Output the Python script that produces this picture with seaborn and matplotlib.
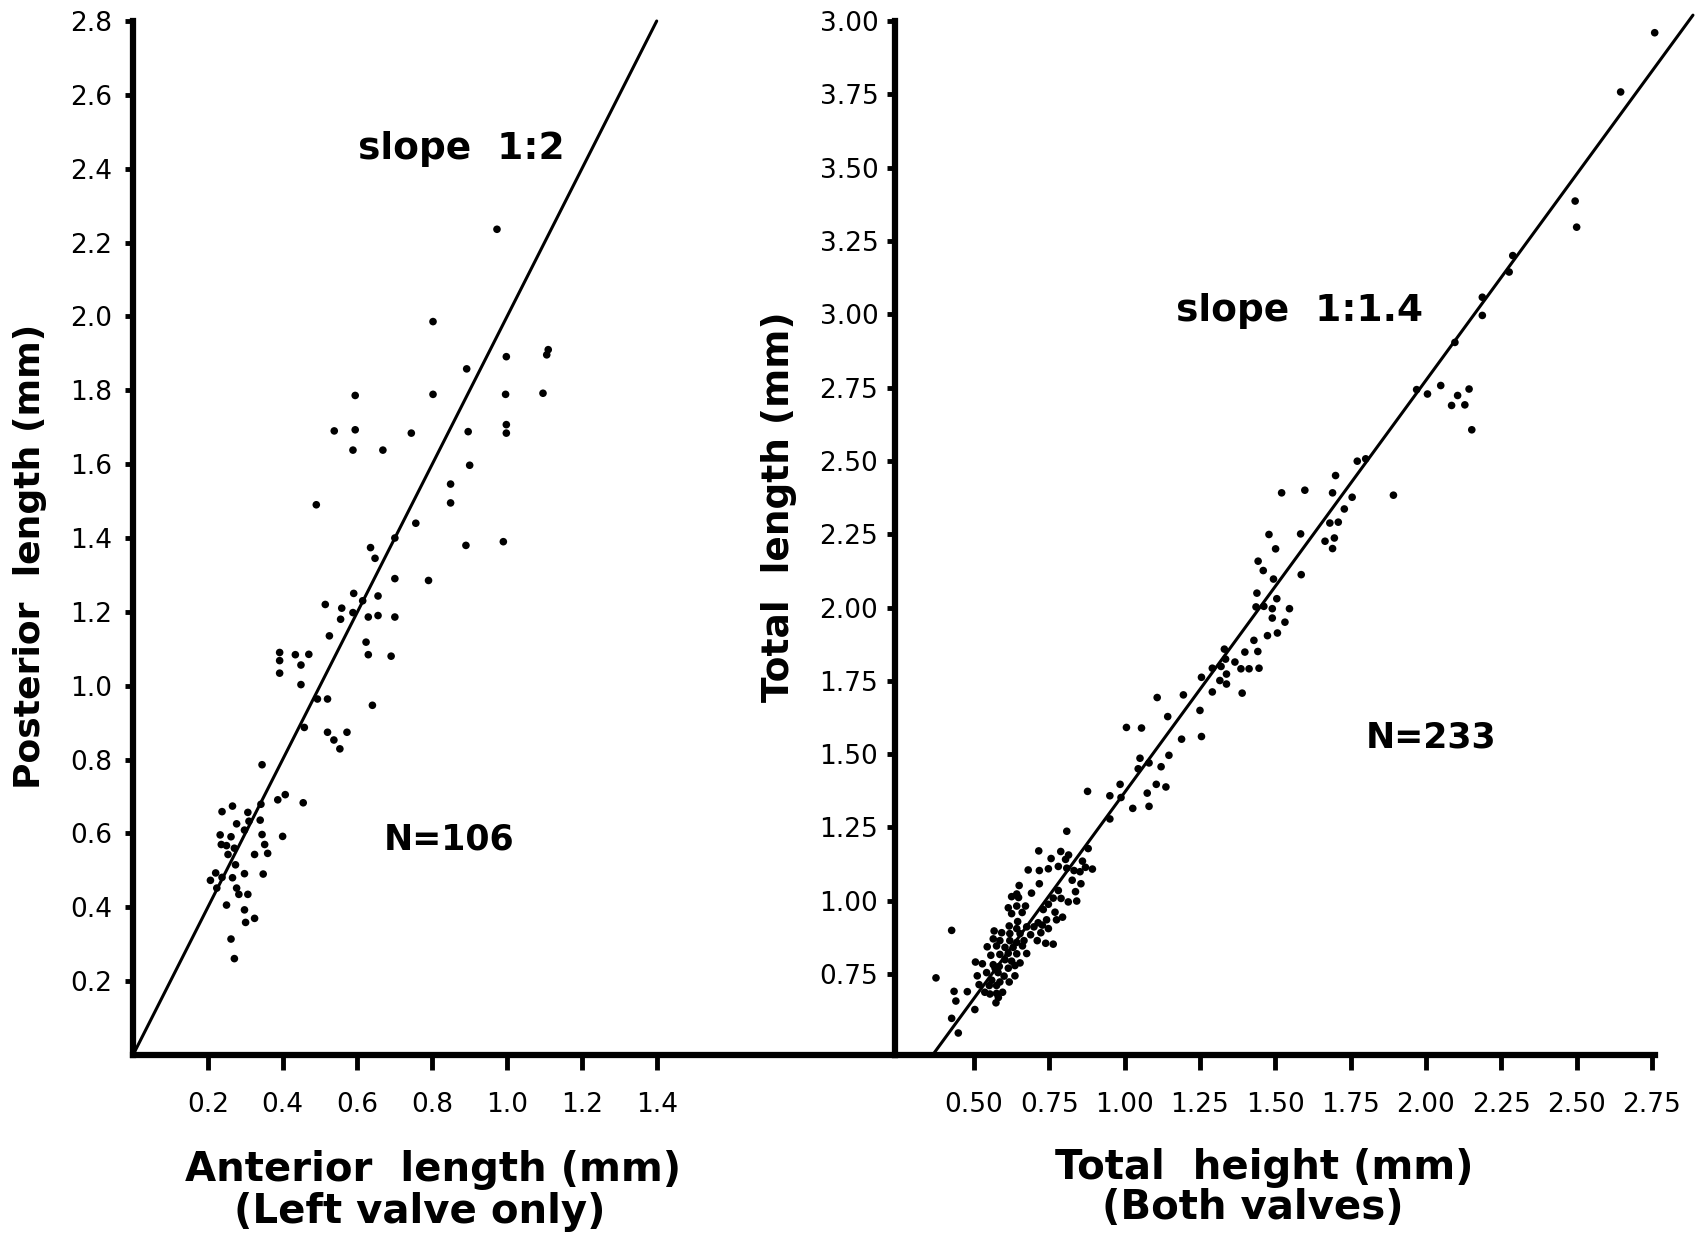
import matplotlib
matplotlib.use("Agg")
import matplotlib.pyplot as plt
import seaborn as sns
import pandas as pd

# left panel: anterior vs posterior length (left valve), N=106
ant_len = [0.49, 0.756, 0.70, 0.89, 0.99, 0.635, 0.647, 0.70, 0.79, 0.59,
           0.514, 0.558, 0.614, 0.655, 0.588, 0.555, 0.629, 0.655, 0.70, 0.525,
           0.623, 0.629, 0.69, 0.392, 0.392, 0.392, 0.434, 0.47, 0.449, 0.449,
           0.493, 0.52, 0.64, 0.458, 0.52, 0.537, 0.572, 0.553, 0.345, 0.387,
           0.407, 0.455, 0.342, 0.238, 0.266, 0.307, 0.34, 0.277, 0.31, 0.298,
           0.233, 0.262, 0.345, 0.40, 0.236, 0.25, 0.271, 0.352, 0.254, 0.325,
           0.36, 0.274, 0.221, 0.207, 0.238, 0.266, 0.298, 0.348, 0.224, 0.277,
           0.283, 0.307, 0.25, 0.298, 0.301, 0.325, 0.262, 0.271,
           0.973, 0.802, 0.998, 1.106, 1.11, 0.892, 0.594, 0.802, 0.996, 1.096,
           0.538, 0.594, 0.744, 0.896, 0.998, 0.998, 0.588, 0.668, 0.90, 0.849,
           0.849]
post_len = [1.49, 1.44, 1.40, 1.38, 1.39, 1.374, 1.345, 1.29, 1.285, 1.25,
            1.22, 1.21, 1.23, 1.243, 1.198, 1.18, 1.186, 1.19, 1.186, 1.135,
            1.118, 1.084, 1.08, 1.09, 1.068, 1.034, 1.084, 1.085, 1.056, 1.003,
            0.964, 0.964, 0.947, 0.887, 0.874, 0.853, 0.874, 0.829, 0.786, 0.691,
            0.705, 0.683, 0.679, 0.659, 0.674, 0.657, 0.636, 0.626, 0.633, 0.609,
            0.596, 0.591, 0.597, 0.592, 0.57, 0.567, 0.56, 0.57, 0.543, 0.543,
            0.546, 0.515, 0.493, 0.473, 0.481, 0.48, 0.491, 0.49, 0.452, 0.452,
            0.435, 0.435, 0.406, 0.393, 0.359, 0.37, 0.314, 0.261,
            2.236, 1.986, 1.891, 1.896, 1.91, 1.858, 1.786, 1.789, 1.789, 1.792,
            1.69, 1.693, 1.684, 1.688, 1.707, 1.684, 1.638, 1.638, 1.597, 1.546,
            1.495]

# right panel: total height vs total length (both valves), N=233
tot_height = [2.759, 2.646, 2.495, 2.50, 2.288, 2.276, 2.187, 2.187, 2.096,
              1.969, 2.005, 2.049, 2.105, 2.143, 2.085, 2.129, 2.152,
              1.772, 1.80, 1.70, 1.521, 1.598, 1.69, 1.755, 1.892, 1.729, 1.681,
              1.709, 1.479, 1.584, 1.665, 1.696, 1.69, 1.501, 1.443, 1.46, 1.586,
              1.494, 1.439, 1.505, 1.436, 1.462, 1.49, 1.547, 1.49, 1.532, 1.507,
              1.474, 1.429, 1.399, 1.442, 1.331, 1.335, 1.32, 1.291, 1.366, 1.386,
              1.413, 1.446, 1.338, 1.316, 1.338, 1.255, 1.291, 1.39, 1.195, 1.108,
              1.25, 1.143, 1.006, 1.056, 1.189, 1.255,
              1.147, 1.051, 1.081, 1.045, 1.121, 0.985, 1.105, 1.137, 1.075, 0.877,
              1.081,
              0.951, 0.988, 1.027, 0.951, 0.808, 0.715, 0.756, 0.788, 0.814, 0.879,
              0.86, 0.804, 0.68, 0.717, 0.747, 0.78, 0.808, 0.832, 0.852, 0.87,
              0.893, 0.826, 0.855, 0.717, 0.78, 0.837, 0.65, 0.691, 0.642, 0.625,
              0.789, 0.813, 0.841, 0.763, 0.747, 0.648, 0.614, 0.642, 0.671, 0.73,
              0.769, 0.794, 0.774, 0.625, 0.66, 0.645, 0.713, 0.741, 0.617, 0.642,
              0.675, 0.699, 0.727, 0.747, 0.426, 0.567, 0.592, 0.619, 0.653, 0.688,
              0.722, 0.564, 0.586, 0.619, 0.642, 0.666, 0.71, 0.738, 0.763, 0.544,
              0.575, 0.603, 0.63, 0.661, 0.675, 0.556, 0.586, 0.614, 0.642, 0.603,
              0.625, 0.653, 0.505, 0.528, 0.564, 0.584, 0.575, 0.57, 0.58, 0.614,
              0.636, 0.542, 0.511, 0.636, 0.60, 0.559, 0.586, 0.617, 0.517, 0.551,
              0.575, 0.536, 0.553, 0.575, 0.595, 0.581, 0.573, 0.478, 0.434, 0.44,
              0.374, 0.503, 0.426, 0.448]
tot_len = [3.96, 3.758, 3.386, 3.297, 3.20, 3.144, 3.058, 2.996, 2.904,
           2.743, 2.728, 2.757, 2.723, 2.745, 2.689, 2.691, 2.606,
           2.499, 2.507, 2.45, 2.391, 2.40, 2.391, 2.376, 2.383, 2.336, 2.288,
           2.291, 2.249, 2.251, 2.226, 2.237, 2.201, 2.20, 2.158, 2.126, 2.112,
           2.097, 2.049, 2.03, 2.002, 2.004, 1.996, 1.996, 1.964, 1.95, 1.913,
           1.904, 1.888, 1.848, 1.85, 1.858, 1.824, 1.799, 1.793, 1.814, 1.791,
           1.791, 1.793, 1.773, 1.751, 1.739, 1.762, 1.712, 1.708, 1.702, 1.693,
           1.649, 1.628, 1.591, 1.589, 1.551, 1.56,
           1.496, 1.486, 1.47, 1.45, 1.457, 1.397, 1.397, 1.388, 1.367, 1.373,
           1.322,
           1.358, 1.352, 1.315, 1.279, 1.237, 1.17, 1.144, 1.168, 1.156, 1.178,
           1.135, 1.141, 1.105, 1.103, 1.109, 1.117, 1.111, 1.103, 1.099, 1.114,
           1.108, 1.07, 1.058, 1.058, 1.035, 1.031, 1.052, 1.026, 1.023, 1.014,
           1.008, 0.996, 0.999, 1.009, 0.988, 1.011, 0.976, 0.982, 0.982, 0.97,
           0.961, 0.944, 0.935, 0.956, 0.96, 0.929, 0.925, 0.935, 0.914, 0.905,
           0.911, 0.911, 0.917, 0.905, 0.899, 0.897, 0.891, 0.888, 0.888, 0.884,
           0.891, 0.87, 0.864, 0.864, 0.858, 0.864, 0.864, 0.855, 0.852, 0.843,
           0.846, 0.841, 0.841, 0.846, 0.82, 0.814, 0.817, 0.821, 0.819, 0.799,
           0.794, 0.788, 0.791, 0.785, 0.782, 0.776, 0.764, 0.77, 0.755, 0.77,
           0.779, 0.755, 0.744, 0.744, 0.743, 0.729, 0.723, 0.723, 0.714, 0.711,
           0.711, 0.688, 0.682, 0.684, 0.688, 0.67, 0.652, 0.69, 0.691, 0.658,
           0.737, 0.629, 0.599, 0.549]

# fitted lines (end points)
left_line_x = [0.0, 1.4]
left_line_y = [0.0, 2.8]
right_line_x = [0.36, 2.886]
right_line_y = [0.47, 4.02]

left_yticks = [0.2, 0.4, 0.6, 0.8, 1.0, 1.2, 1.4, 1.6, 1.8, 2.0, 2.2, 2.4, 2.6, 2.8]
left_xticks = [0.2, 0.4, 0.6, 0.8, 1.0, 1.2, 1.4]
right_yticks = [0.75, 1.00, 1.25, 1.50, 1.75, 2.00, 2.25, 2.50, 2.75, 3.00, 3.25, 3.50, 3.75, 4.00]
right_ylabels = ["0.75", "1.00", "1.25", "1.50", "1.75", "2.00", "2.25", "2.50",
                 "2.75", "3.00", "3.25", "3.50", "3.75", "3.00"]
right_xticks = [0.50, 0.75, 1.00, 1.25, 1.50, 1.75, 2.00, 2.25, 2.50, 2.75]

left_df = pd.DataFrame({"anterior": ant_len, "posterior": post_len})
right_df = pd.DataFrame({"height": tot_height, "length": tot_len})

sns.set_style("ticks")
plt.rcParams["font.family"] = ["DejaVu Sans"]
plt.rcParams.update({"text.color": "black", "axes.edgecolor": "black",
                     "axes.labelcolor": "black", "xtick.color": "black",
                     "ytick.color": "black"})

W, H = 1696, 1235
fig = plt.figure(figsize=(W / 100, H / 100), dpi=100)


def box(x0, y0, x1, y1):
    return [x0 / W, 1 - y1 / H, (x1 - x0) / W, (y1 - y0) / H]


ax1 = fig.add_axes(box(133, 21, 895, 1055))
ax2 = fig.add_axes(box(895, 21, 1655, 1055))

sns.scatterplot(data=left_df, x="anterior", y="posterior", ax=ax1,
                color="black", s=30, edgecolor="none", clip_on=False)
ax1.plot(left_line_x, left_line_y, color="black", lw=2.2, clip_on=False)
ax1.set_xlim(0, 2.037)
ax1.set_ylim(0, 2.8)
ax1.set_xticks(left_xticks)
ax1.set_xticklabels([f"{v:.1f}" for v in left_xticks])
ax1.set_yticks(left_yticks)
ax1.set_yticklabels([f"{v:.1f}" for v in left_yticks])

sns.scatterplot(data=right_df, x="height", y="length", ax=ax2,
                color="black", s=30, edgecolor="none", clip_on=False)
ax2.plot(right_line_x, right_line_y, color="black", lw=2.2, clip_on=False)
ax2.set_xlim(0.238, 2.76)
ax2.set_ylim(0.474, 4.0)
ax2.set_xticks(right_xticks)
ax2.set_xticklabels([f"{v:.2f}" for v in right_xticks])
ax2.set_yticks(right_yticks)
ax2.set_yticklabels(right_ylabels)

for ax, ypad in [(ax1, 9), (ax2, 6)]:
    sns.despine(ax=ax)
    ax.spines["left"].set_linewidth(4.5)
    ax.spines["bottom"].set_linewidth(4.5)
    ax.set_xlabel("")
    ax.set_ylabel("")
    ax.tick_params(axis="x", length=11, width=3.5, pad=16, labelsize=19)
    ax.tick_params(axis="y", length=6, width=3.5, pad=ypad, labelsize=19)

fig.text(30 / W, 1 - 556 / H, "Posterior  length (mm)", rotation=90,
         ha="center", va="center", fontsize=26, fontweight="bold")
fig.text(779 / W, 1 - 507 / H, "Total  length (mm)", rotation=90,
         ha="center", va="center", fontsize=27, fontweight="bold")

fig.text(433 / W, 1 - 1170 / H, "Anterior  length (mm)", ha="center", va="center",
         fontsize=29, fontweight="bold")
fig.text(420 / W, 1 - 1212 / H, "(Left valve only)", ha="center", va="center",
         fontsize=29, fontweight="bold")
fig.text(1264 / W, 1 - 1168 / H, "Total  height (mm)", ha="center", va="center",
         fontsize=29, fontweight="bold")
fig.text(1253 / W, 1 - 1208 / H, "(Both valves)", ha="center", va="center",
         fontsize=29, fontweight="bold")

fig.text(461 / W, 1 - 149 / H, "slope  1:2", ha="center", va="center",
         fontsize=27, fontweight="bold")
fig.text(449 / W, 1 - 840 / H, "N=106", ha="center", va="center",
         fontsize=25, fontweight="bold")
fig.text(1300 / W, 1 - 311 / H, "slope  1:1.4", ha="center", va="center",
         fontsize=27, fontweight="bold")
fig.text(1431 / W, 1 - 738 / H, "N=233", ha="center", va="center",
         fontsize=25, fontweight="bold")

fig.savefig("out.png", dpi=100)
